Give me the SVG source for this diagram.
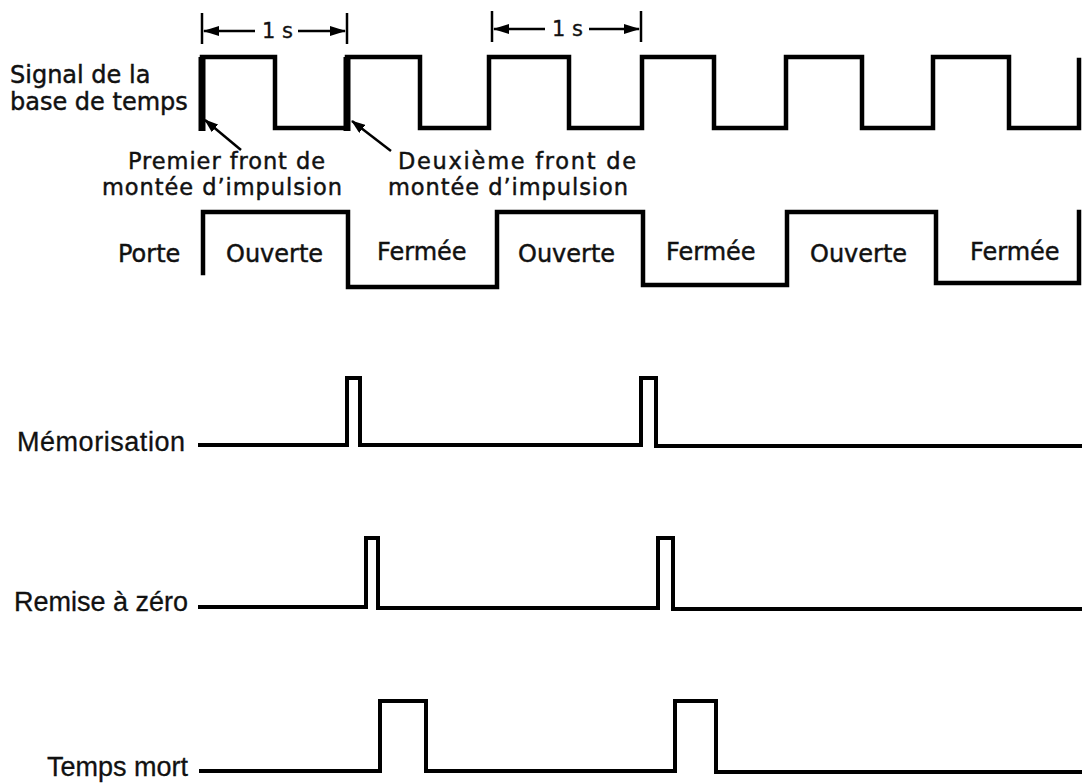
<svg xmlns="http://www.w3.org/2000/svg" width="1082" height="783" viewBox="0 0 1082 783">
<defs>
<style>
.t{font-family:"DejaVu Sans","Liberation Sans",Arial,sans-serif;font-size:24px;fill:#111;stroke:#111;stroke-width:0.45}
.f{font-family:"DejaVu Sans","Liberation Sans",Arial,sans-serif;font-size:22.5px;fill:#111;stroke:#111;stroke-width:0.45}
.l{font-family:"Liberation Sans",Arial,sans-serif;font-size:27px;fill:#111;stroke:#111;stroke-width:0.3}
.s{font-family:"DejaVu Sans","Liberation Sans",Arial,sans-serif;font-size:21px;fill:#111;stroke:#111;stroke-width:0.3}
.w{fill:none;stroke:#000;stroke-width:4.5;stroke-linejoin:miter;stroke-linecap:square}
.p{fill:none;stroke:#000;stroke-width:4;stroke-linejoin:miter;stroke-linecap:butt}
.e{stroke:#000;stroke-width:7;stroke-linecap:butt}
.a{stroke:#000;stroke-width:2.5;fill:none}
.k{stroke:#000;stroke-width:2.5}
</style>
<marker id="ah" viewBox="0 0 16 10" refX="15" refY="5" markerWidth="16" markerHeight="10" markerUnits="userSpaceOnUse" orient="auto">
<path d="M0,0 L16,5 L0,10 Z" fill="#000"/>
</marker>
<marker id="ap" viewBox="0 0 14 10" refX="13" refY="5" markerWidth="14" markerHeight="10" markerUnits="userSpaceOnUse" orient="auto">
<path d="M0,0 L14,5 L0,10 Z" fill="#000"/>
</marker>
</defs>
<rect width="1082" height="783" fill="#fff"/>

<g id="timebase">
<text class="t" x="10" y="83">Signal de la</text>
<text class="t" x="10" y="110">base de temps</text>
<path class="w" d="M202,128 V57 H275 V128 H347 V57 H420 V128 H489 V57 H569 V128 H642 V57 H714 V128 H786 V57 H862 V128 H933 V57 H1009 V128 H1079 V60"/>
<line class="e" x1="202" y1="57" x2="202" y2="131"/>
<line class="e" x1="347" y1="57" x2="347" y2="131"/>
</g>

<g id="label-first">
<text class="f" x="128" y="169" textLength="197">Premier front de</text>
<text class="f" x="102" y="195" textLength="240">montée d’impulsion</text>
</g>
<g id="label-second">
<text class="f" x="398" y="169" textLength="238">Deuxième front de</text>
<text class="f" x="388" y="195" textLength="240">montée d’impulsion</text>
</g>

<g id="porte">
<text class="t" x="118" y="262">Porte</text>
<path class="w" d="M203,273 V212 H348 V287 H497 V212 H643 V285 H787 V212 H936 V283 H1079 V212"/>
<text class="t" x="226" y="262">Ouverte</text>
<text class="t" x="377" y="260">Fermée</text>
<text class="t" x="518" y="262">Ouverte</text>
<text class="t" x="666" y="260">Fermée</text>
<text class="t" x="810" y="262">Ouverte</text>
<text class="t" x="970" y="260">Fermée</text>
</g>

<g id="memorisation">
<text class="l" x="17" y="451" textLength="168">Mémorisation</text>
<path class="p" d="M198,445 H347 V378 H360 V445 H641 V378 H656 V446 H1082"/>
</g>

<g id="remise">
<text class="l" x="14" y="611">Remise à zéro</text>
<path class="p" d="M198,607 H366 V538 H378 V608 H658 V538 H673 V609 H1082"/>
</g>

<g id="tempsmort">
<text class="l" x="47" y="776">Temps mort</text>
<path class="p" d="M199,771 H380 V701 H426 V771 H675 V701 H716 V772 H1082"/>
</g>

<g id="connectors">
<line class="k" x1="202" y1="13" x2="202" y2="44"/>
<line class="k" x1="347" y1="13" x2="347" y2="44"/>
<line class="a" x1="255" y1="31" x2="204" y2="31" marker-end="url(#ah)"/>
<line class="a" x1="298" y1="31" x2="345" y2="31" marker-end="url(#ah)"/>
<text class="s" x="262" y="38">1 s</text>
<line class="k" x1="492" y1="11" x2="492" y2="42"/>
<line class="k" x1="641" y1="11" x2="641" y2="42"/>
<line class="a" x1="545" y1="29" x2="494" y2="29" marker-end="url(#ah)"/>
<line class="a" x1="589" y1="29" x2="639" y2="29" marker-end="url(#ah)"/>
<text class="s" x="552" y="36">1 s</text>
<line class="a" x1="241" y1="150" x2="205" y2="120" marker-end="url(#ap)"/>
<line class="a" x1="391" y1="151" x2="352" y2="121" marker-end="url(#ap)"/>
</g>
</svg>
